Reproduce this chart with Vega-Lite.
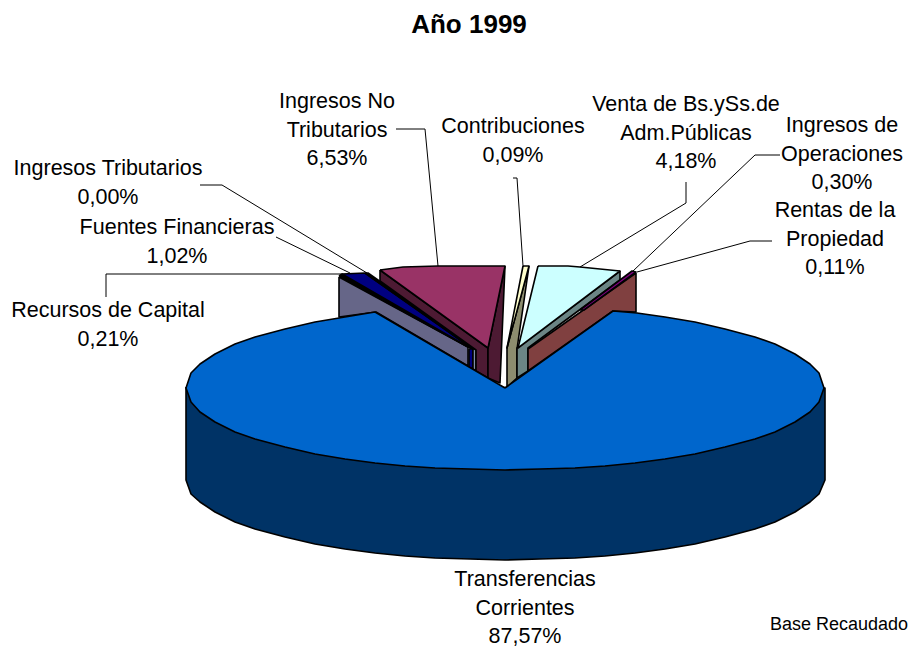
{"$schema":"https://vega.github.io/schema/vega-lite/v6.json","width":910,"height":647,"padding":0,"autosize":{"type":"none"},"background":"white","config":{"view":{"stroke":null}},
"title":{"text":"Año 1999","font":"Liberation Sans","fontSize":26,"fontWeight":"bold","color":"black","anchor":"middle","dx":14,"offset":-38},
"datasets":{
"faces":[
{"s":"t0","f":"Transfer side","i":0,"x":186,"y":387},{"s":"t0","f":"Transfer side","i":1,"x":186,"y":480},{"s":"t0","f":"Transfer side","i":2,"x":191,"y":494},{"s":"t0","f":"Transfer side","i":3,"x":200,"y":502},{"s":"t0","f":"Transfer side","i":4,"x":215,"y":512},{"s":"t0","f":"Transfer side","i":5,"x":235,"y":522},{"s":"t0","f":"Transfer side","i":6,"x":255,"y":529},{"s":"t0","f":"Transfer side","i":7,"x":285,"y":537},{"s":"t0","f":"Transfer side","i":8,"x":315,"y":544},{"s":"t0","f":"Transfer side","i":9,"x":345,"y":549},{"s":"t0","f":"Transfer side","i":10,"x":375,"y":553},{"s":"t0","f":"Transfer side","i":11,"x":405,"y":556},{"s":"t0","f":"Transfer side","i":12,"x":435,"y":558},{"s":"t0","f":"Transfer side","i":13,"x":470,"y":559},{"s":"t0","f":"Transfer side","i":14,"x":505,"y":560},{"s":"t0","f":"Transfer side","i":15,"x":540,"y":559},{"s":"t0","f":"Transfer side","i":16,"x":575,"y":558},{"s":"t0","f":"Transfer side","i":17,"x":605,"y":556},{"s":"t0","f":"Transfer side","i":18,"x":635,"y":553},{"s":"t0","f":"Transfer side","i":19,"x":665,"y":549},{"s":"t0","f":"Transfer side","i":20,"x":695,"y":544},{"s":"t0","f":"Transfer side","i":21,"x":725,"y":537},{"s":"t0","f":"Transfer side","i":22,"x":755,"y":529},{"s":"t0","f":"Transfer side","i":23,"x":775,"y":522},{"s":"t0","f":"Transfer side","i":24,"x":795,"y":512},{"s":"t0","f":"Transfer side","i":25,"x":810,"y":502},{"s":"t0","f":"Transfer side","i":26,"x":819,"y":494},{"s":"t0","f":"Transfer side","i":27,"x":825,"y":480},{"s":"t0","f":"Transfer side","i":28,"x":825,"y":388},{"s":"t0","f":"Transfer side","i":29,"x":186,"y":387},
{"s":"c0","f":"Capital side","i":0,"x":339,"y":277},{"s":"c0","f":"Capital side","i":1,"x":339,"y":317},{"s":"c0","f":"Capital side","i":2,"x":376,"y":312},{"s":"c0","f":"Capital side","i":3,"x":468,"y":366},{"s":"c0","f":"Capital side","i":4,"x":468,"y":347},{"s":"c0","f":"Capital side","i":5,"x":339,"y":277},
{"s":"c1","f":"Capital top","i":0,"x":339,"y":276},{"s":"c1","f":"Capital top","i":1,"x":342,"y":274},{"s":"c1","f":"Capital top","i":2,"x":470,"y":346},{"s":"c1","f":"Capital top","i":3,"x":468,"y":347},{"s":"c1","f":"Capital top","i":4,"x":339,"y":276},
{"s":"n0","f":"Fuentes","i":0,"x":342,"y":274},{"s":"n0","f":"Fuentes","i":1,"x":365,"y":273},{"s":"n0","f":"Fuentes","i":2,"x":473,"y":349},{"s":"n0","f":"Fuentes","i":3,"x":470,"y":348},{"s":"n0","f":"Fuentes","i":4,"x":342,"y":274},
{"s":"n1","f":"Fuentes","i":0,"x":469,"y":349},{"s":"n1","f":"Fuentes","i":1,"x":473,"y":349},{"s":"n1","f":"Fuentes","i":2,"x":473,"y":369},{"s":"n1","f":"Fuentes","i":3,"x":469,"y":367},{"s":"n1","f":"Fuentes","i":4,"x":469,"y":349},
{"s":"r0","f":"Tributarios top","i":0,"x":365,"y":273},{"s":"r0","f":"Tributarios top","i":1,"x":368,"y":273},{"s":"r0","f":"Tributarios top","i":2,"x":476,"y":349},{"s":"r0","f":"Tributarios top","i":3,"x":473,"y":349},{"s":"r0","f":"Tributarios top","i":4,"x":365,"y":273},
{"s":"r1","f":"Tributarios side","i":0,"x":473,"y":349},{"s":"r1","f":"Tributarios side","i":1,"x":476,"y":349},{"s":"r1","f":"Tributarios side","i":2,"x":476,"y":371},{"s":"r1","f":"Tributarios side","i":3,"x":473,"y":369},{"s":"r1","f":"Tributarios side","i":4,"x":473,"y":349},
{"s":"m0","f":"No tributarios side","i":0,"x":380,"y":270},{"s":"m0","f":"No tributarios side","i":1,"x":380,"y":281},{"s":"m0","f":"No tributarios side","i":2,"x":476,"y":350},{"s":"m0","f":"No tributarios side","i":3,"x":476,"y":371},{"s":"m0","f":"No tributarios side","i":4,"x":488,"y":378},{"s":"m0","f":"No tributarios side","i":5,"x":488,"y":348},{"s":"m0","f":"No tributarios side","i":6,"x":380,"y":270},
{"s":"m1","f":"No tributarios side","i":0,"x":505,"y":266},{"s":"m1","f":"No tributarios side","i":1,"x":488,"y":348},{"s":"m1","f":"No tributarios side","i":2,"x":488,"y":378},{"s":"m1","f":"No tributarios side","i":3,"x":500,"y":383},{"s":"m1","f":"No tributarios side","i":4,"x":505,"y":266},
{"s":"m2","f":"No tributarios","i":0,"x":380,"y":270},{"s":"m2","f":"No tributarios","i":1,"x":403,"y":267},{"s":"m2","f":"No tributarios","i":2,"x":438,"y":266},{"s":"m2","f":"No tributarios","i":3,"x":505,"y":266},{"s":"m2","f":"No tributarios","i":4,"x":488,"y":348},{"s":"m2","f":"No tributarios","i":5,"x":380,"y":270},
{"s":"o0","f":"Contribuciones side","i":0,"x":529,"y":266},{"s":"o0","f":"Contribuciones side","i":1,"x":507,"y":348},{"s":"o0","f":"Contribuciones side","i":2,"x":507,"y":387},{"s":"o0","f":"Contribuciones side","i":3,"x":517,"y":378},{"s":"o0","f":"Contribuciones side","i":4,"x":517,"y":349},{"s":"o0","f":"Contribuciones side","i":5,"x":529,"y":266},
{"s":"o1","f":"Contribuciones","i":0,"x":523,"y":266},{"s":"o1","f":"Contribuciones","i":1,"x":529,"y":266},{"s":"o1","f":"Contribuciones","i":2,"x":507,"y":348},{"s":"o1","f":"Contribuciones","i":3,"x":523,"y":266},
{"s":"v0","f":"Venta side","i":0,"x":620,"y":271},{"s":"v0","f":"Venta side","i":1,"x":620,"y":280},{"s":"v0","f":"Venta side","i":2,"x":528,"y":348},{"s":"v0","f":"Venta side","i":3,"x":528,"y":371},{"s":"v0","f":"Venta side","i":4,"x":517,"y":378},{"s":"v0","f":"Venta side","i":5,"x":517,"y":348},{"s":"v0","f":"Venta side","i":6,"x":620,"y":271},
{"s":"v1","f":"Venta","i":0,"x":538,"y":266},{"s":"v1","f":"Venta","i":1,"x":568,"y":266},{"s":"v1","f":"Venta","i":2,"x":580,"y":267},{"s":"v1","f":"Venta","i":3,"x":620,"y":271},{"s":"v1","f":"Venta","i":4,"x":518,"y":348},{"s":"v1","f":"Venta","i":5,"x":538,"y":266},
{"s":"b0","f":"Rentas side","i":0,"x":636,"y":273},{"s":"b0","f":"Rentas side","i":1,"x":636,"y":312},{"s":"b0","f":"Rentas side","i":2,"x":613,"y":311},{"s":"b0","f":"Rentas side","i":3,"x":528,"y":371},{"s":"b0","f":"Rentas side","i":4,"x":528,"y":349},{"s":"b0","f":"Rentas side","i":5,"x":636,"y":273},
{"s":"p0","f":"Operaciones","i":0,"x":580,"y":310},{"s":"p0","f":"Operaciones","i":1,"x":632,"y":271},{"s":"p0","f":"Operaciones","i":2,"x":636,"y":272},{"s":"p0","f":"Operaciones","i":3,"x":584,"y":310},{"s":"p0","f":"Operaciones","i":4,"x":580,"y":310},
{"s":"t1","f":"Transferencias","i":0,"x":505,"y":388},{"s":"t1","f":"Transferencias","i":1,"x":613,"y":311},{"s":"t1","f":"Transferencias","i":2,"x":637,"y":313},{"s":"t1","f":"Transferencias","i":3,"x":665,"y":317},{"s":"t1","f":"Transferencias","i":4,"x":695,"y":322},{"s":"t1","f":"Transferencias","i":5,"x":725,"y":329},{"s":"t1","f":"Transferencias","i":6,"x":755,"y":337},{"s":"t1","f":"Transferencias","i":7,"x":775,"y":344},{"s":"t1","f":"Transferencias","i":8,"x":795,"y":354},{"s":"t1","f":"Transferencias","i":9,"x":810,"y":364},{"s":"t1","f":"Transferencias","i":10,"x":819,"y":373},{"s":"t1","f":"Transferencias","i":11,"x":824,"y":388},{"s":"t1","f":"Transferencias","i":12,"x":819,"y":402},{"s":"t1","f":"Transferencias","i":13,"x":810,"y":412},{"s":"t1","f":"Transferencias","i":14,"x":795,"y":422},{"s":"t1","f":"Transferencias","i":15,"x":775,"y":432},{"s":"t1","f":"Transferencias","i":16,"x":755,"y":439},{"s":"t1","f":"Transferencias","i":17,"x":725,"y":447},{"s":"t1","f":"Transferencias","i":18,"x":695,"y":454},{"s":"t1","f":"Transferencias","i":19,"x":665,"y":459},{"s":"t1","f":"Transferencias","i":20,"x":635,"y":463},{"s":"t1","f":"Transferencias","i":21,"x":605,"y":466},{"s":"t1","f":"Transferencias","i":22,"x":575,"y":468},{"s":"t1","f":"Transferencias","i":23,"x":540,"y":469},{"s":"t1","f":"Transferencias","i":24,"x":505,"y":470},{"s":"t1","f":"Transferencias","i":25,"x":470,"y":469},{"s":"t1","f":"Transferencias","i":26,"x":435,"y":468},{"s":"t1","f":"Transferencias","i":27,"x":405,"y":466},{"s":"t1","f":"Transferencias","i":28,"x":375,"y":463},{"s":"t1","f":"Transferencias","i":29,"x":345,"y":459},{"s":"t1","f":"Transferencias","i":30,"x":315,"y":454},{"s":"t1","f":"Transferencias","i":31,"x":285,"y":447},{"s":"t1","f":"Transferencias","i":32,"x":255,"y":439},{"s":"t1","f":"Transferencias","i":33,"x":235,"y":432},{"s":"t1","f":"Transferencias","i":34,"x":215,"y":422},{"s":"t1","f":"Transferencias","i":35,"x":200,"y":412},{"s":"t1","f":"Transferencias","i":36,"x":191,"y":402},{"s":"t1","f":"Transferencias","i":37,"x":186,"y":388},{"s":"t1","f":"Transferencias","i":38,"x":191,"y":373},{"s":"t1","f":"Transferencias","i":39,"x":200,"y":364},{"s":"t1","f":"Transferencias","i":40,"x":215,"y":354},{"s":"t1","f":"Transferencias","i":41,"x":235,"y":344},{"s":"t1","f":"Transferencias","i":42,"x":255,"y":337},{"s":"t1","f":"Transferencias","i":43,"x":285,"y":329},{"s":"t1","f":"Transferencias","i":44,"x":315,"y":322},{"s":"t1","f":"Transferencias","i":45,"x":345,"y":317},{"s":"t1","f":"Transferencias","i":46,"x":375,"y":312},{"s":"t1","f":"Transferencias","i":47,"x":505,"y":388}
],
"leaders":[
{"s":"a","i":0,"x":106,"y":297},{"s":"a","i":1,"x":106,"y":274},{"s":"a","i":2,"x":342,"y":274},
{"s":"b","i":0,"x":276,"y":237},{"s":"b","i":1,"x":350,"y":273},
{"s":"c","i":0,"x":200,"y":185},{"s":"c","i":1,"x":222,"y":185},{"s":"c","i":2,"x":367,"y":273},
{"s":"d","i":0,"x":396,"y":129},{"s":"d","i":1,"x":425,"y":129},{"s":"d","i":2,"x":438,"y":266},
{"s":"e","i":0,"x":513,"y":178},{"s":"e","i":1,"x":517,"y":178},{"s":"e","i":2,"x":523,"y":266},
{"s":"f","i":0,"x":686,"y":182},{"s":"f","i":1,"x":686,"y":203},{"s":"f","i":2,"x":580,"y":267},
{"s":"g","i":0,"x":780,"y":155},{"s":"g","i":1,"x":755,"y":155},{"s":"g","i":2,"x":633,"y":271},
{"s":"h","i":0,"x":772,"y":241},{"s":"h","i":1,"x":750,"y":241},{"s":"h","i":2,"x":637,"y":272}
],
"labels":[
{"label":"Ingresos No\nTributarios\n6,53%","pct":6.53,"x":337,"y":91},
{"label":"Contribuciones\n0,09%","pct":0.09,"x":513,"y":116},
{"label":"Venta de Bs.ySs.de\nAdm.Públicas\n4,18%","pct":4.18,"x":686,"y":94},
{"label":"Ingresos de\nOperaciones\n0,30%","pct":0.30,"x":842,"y":115},
{"label":"Rentas de la\nPropiedad\n0,11%","pct":0.11,"x":835,"y":200},
{"label":"Ingresos Tributarios\n0,00%","pct":0.00,"x":108,"y":158},
{"label":"Fuentes Financieras\n1,02%","pct":1.02,"x":177,"y":217},
{"label":"Recursos de Capital\n0,21%","pct":0.21,"x":108,"y":300},
{"label":"Transferencias\nCorrientes\n87,57%","pct":87.57,"x":525,"y":569}
],
"note":[{"label":"Base Recaudado","x":908,"y":625}]
},
"layer":[
{"data":{"name":"faces"},"mark":{"type":"line","filled":true,"stroke":"black","strokeWidth":1.6,"strokeJoin":"round","clip":false},
"encoding":{"x":{"field":"x","type":"quantitative","axis":null,"scale":{"domain":[0,910],"nice":false,"zero":false}},"y":{"field":"y","type":"quantitative","axis":null,"scale":{"domain":[647,0],"nice":false,"zero":false}},"detail":{"field":"s"},"order":{"field":"i","type":"quantitative"},
"fill":{"field":"f","type":"nominal","legend":null,"scale":{"domain":["Transfer side","Capital side","Capital top","Fuentes","Tributarios top","Tributarios side","No tributarios side","No tributarios","Contribuciones side","Contribuciones","Venta side","Venta","Rentas side","Operaciones","Transferencias"],"range":["#003366","#666688","#000000","#000080","#55558a","#7f8faa","#4d1a33","#993366","#8c8c6e","#ffffcc","#6b8585","#ccffff","#804040","#800080","#0066cc"]}}}},
{"data":{"name":"leaders"},"mark":{"type":"line","color":"black","strokeWidth":1},
"encoding":{"x":{"field":"x","type":"quantitative","axis":null},"y":{"field":"y","type":"quantitative","axis":null},"detail":{"field":"s"},"order":{"field":"i","type":"quantitative"}}},
{"data":{"name":"labels"},"mark":{"type":"text","font":"Liberation Sans","fontSize":21.5,"lineBreak":"\n","lineHeight":28.7,"align":"center","baseline":"top","color":"black"},
"encoding":{"x":{"field":"x","type":"quantitative","axis":null},"y":{"field":"y","type":"quantitative","axis":null},"text":{"field":"label"}}},
{"data":{"name":"note"},"mark":{"type":"text","font":"Liberation Sans","fontSize":18,"align":"right","baseline":"middle","color":"black"},
"encoding":{"x":{"field":"x","type":"quantitative","axis":null},"y":{"field":"y","type":"quantitative","axis":null},"text":{"field":"label"}}}
]}
